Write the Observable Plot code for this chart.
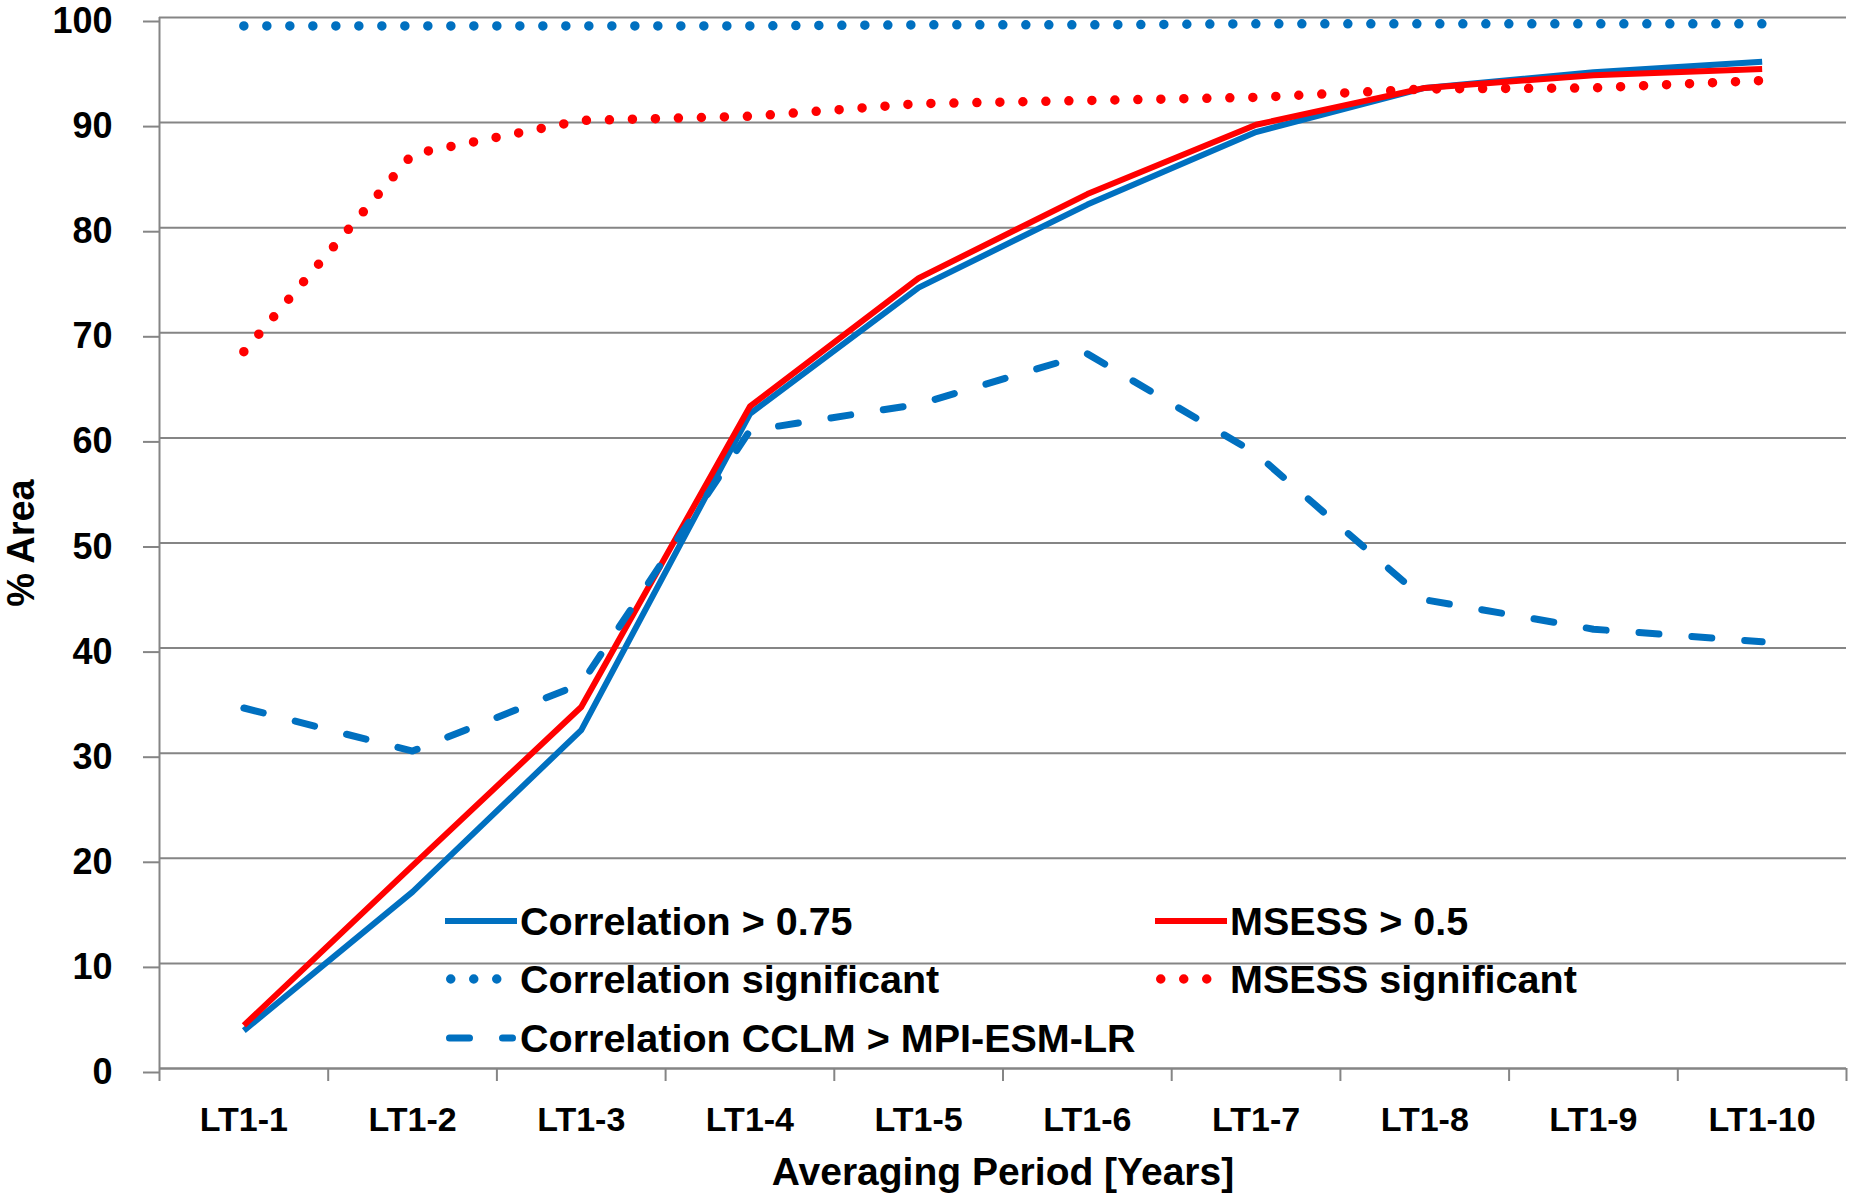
<!DOCTYPE html>
<html><head><meta charset="utf-8">
<script src="https://cdn.jsdelivr.net/npm/d3@7"></script>
<script src="https://cdn.jsdelivr.net/npm/@observablehq/plot@0.6"></script>
<style>
body{margin:0;background:#fff;}
#wrap{position:relative;width:1850px;height:1194px;}
.item{position:absolute;display:flex;align-items:center;white-space:nowrap;height:44px;
  font-family:"Liberation Sans",Arial,sans-serif;font-weight:bold;font-size:39.5px;color:#000;}
.item svg{display:block;margin-right:3px;}
</style></head><body><div id="wrap"></div>
<script>
const periods = ["LT1-1","LT1-2","LT1-3","LT1-4","LT1-5","LT1-6","LT1-7","LT1-8","LT1-9","LT1-10"];
const corr075  = [3.6, 16.8, 32.2, 62.3, 74.3, 82.2, 89.1, 93.3, 94.8, 95.8];
const msess05  = [4.1, 19.3, 34.4, 63.0, 75.2, 83.2, 89.8, 93.3, 94.5, 95.1];
const corrSig  = [99.2, 99.2, 99.2, 99.2, 99.3, 99.3, 99.4, 99.4, 99.4, 99.4];
const msessSig = [68.2, 87.0, 90.2, 90.6, 91.8, 92.1, 92.4, 93.2, 93.3, 94.0];
const corrCCLM = [34.3, 30.2, 36.6, 60.7, 63.2, 68.0, 58.5, 44.6, 41.8, 40.6];
const yTicks = [0,10,20,30,40,50,60,70,80,90,100];

const blue = "#0070C0", red = "#FF0000", gridColor = "#858585";
const solid = {width: 6, dash: null, cap: "butt"};
const dotted = {width: 9.5, dash: "0,23", cap: "round"};
const dashed = {width: 7, dash: "20,33", cap: "round"};

const series = [
  {name: "Correlation > 0.75", values: corr075, color: blue, ...solid},
  {name: "MSESS > 0.5", values: msess05, color: red, ...solid},
  {name: "Correlation significant", values: corrSig, color: blue, ...dotted},
  {name: "MSESS significant", values: msessSig, color: red, ...dotted},
  {name: "Correlation CCLM > MPI-ESM-LR", values: corrCCLM, color: blue, ...dashed}
];

const idx = periods.map((_, i) => i + 1);
const bounds = d3.range(periods.length + 1).map(i => i + 0.5);

const chart = Plot.plot({
  width: 1850, height: 1194,
  marginLeft: 159, marginRight: 4, marginTop: 17, marginBottom: 126,
  x: {type: "linear", domain: [0.5, periods.length + 0.5]},
  y: {domain: [0, 100]},
  style: {fontFamily: "'Liberation Sans', Arial, sans-serif", fontWeight: "bold", fontSize: "39px", color: "#000", background: "#fff"},
  marks: [
    Plot.gridY(yTicks.filter(v => v > 0), {stroke: gridColor, strokeOpacity: 1, strokeWidth: 2}),
    Plot.ruleY([0], {stroke: gridColor, strokeWidth: 2.5}),
    Plot.ruleX([0.5], {stroke: gridColor, strokeWidth: 2}),
    Plot.axisY({ticks: yTicks, tickSize: 16, tickPadding: 31, stroke: gridColor, strokeWidth: 2, fontSize: 36, dy: 4, label: null, tickFormat: d => String(d)}),
    Plot.axisX({ticks: bounds, tickSize: 13, tickFormat: () => "", stroke: gridColor, strokeWidth: 2, label: null}),
    Plot.axisX({ticks: idx, tickSize: 0, tickPadding: 38, fontSize: 34, label: null, tickFormat: i => periods[i - 1]}),
    ...series.map(s => Plot.line(s.values, {
      x: (d, i) => i + 1, y: d => d,
      stroke: s.color, strokeWidth: s.width, strokeDasharray: s.dash,
      strokeLinecap: s.cap, strokeLinejoin: "round"
    })),
    Plot.text(["% Area"], {text: d => d, frameAnchor: "left", textAnchor: "middle", lineAnchor: "middle", dx: -138, rotate: -90, fontSize: 38, fontWeight: "bold"}),
    Plot.text(["Averaging Period [Years]"], {text: d => d, frameAnchor: "bottom", textAnchor: "middle", lineAnchor: "middle", dy: 104, fontSize: 39, fontWeight: "bold"})
  ]
});
const wrap = document.getElementById("wrap");
wrap.appendChild(chart);

// legend (HTML overlay)
const legendPos = [[445, 921], [1155, 921], [445, 979], [1155, 979], [445, 1038]];
series.forEach((s, k) => {
  const [lx, cy] = legendPos[k];
  const item = document.createElement("div");
  item.className = "item";
  item.style.left = lx + "px";
  item.style.top = (cy - 22) + "px";
  const ns = "http://www.w3.org/2000/svg";
  const svg = document.createElementNS(ns, "svg");
  svg.setAttribute("width", 72); svg.setAttribute("height", 20);
  const ln = document.createElementNS(ns, "line");
  const x1 = s.cap === "round" ? s.width / 2 + 1 : 0;
  ln.setAttribute("x1", x1); ln.setAttribute("x2", 72 - x1);
  ln.setAttribute("y1", 10); ln.setAttribute("y2", 10);
  ln.setAttribute("stroke", s.color);
  ln.setAttribute("stroke-width", s.width);
  ln.setAttribute("stroke-linecap", s.cap);
  if (s.dash) ln.setAttribute("stroke-dasharray", s.dash);
  svg.appendChild(ln);
  item.appendChild(svg);
  const t = document.createElement("span");
  t.textContent = s.name;
  item.appendChild(t);
  wrap.appendChild(item);
});
</script></body></html>
